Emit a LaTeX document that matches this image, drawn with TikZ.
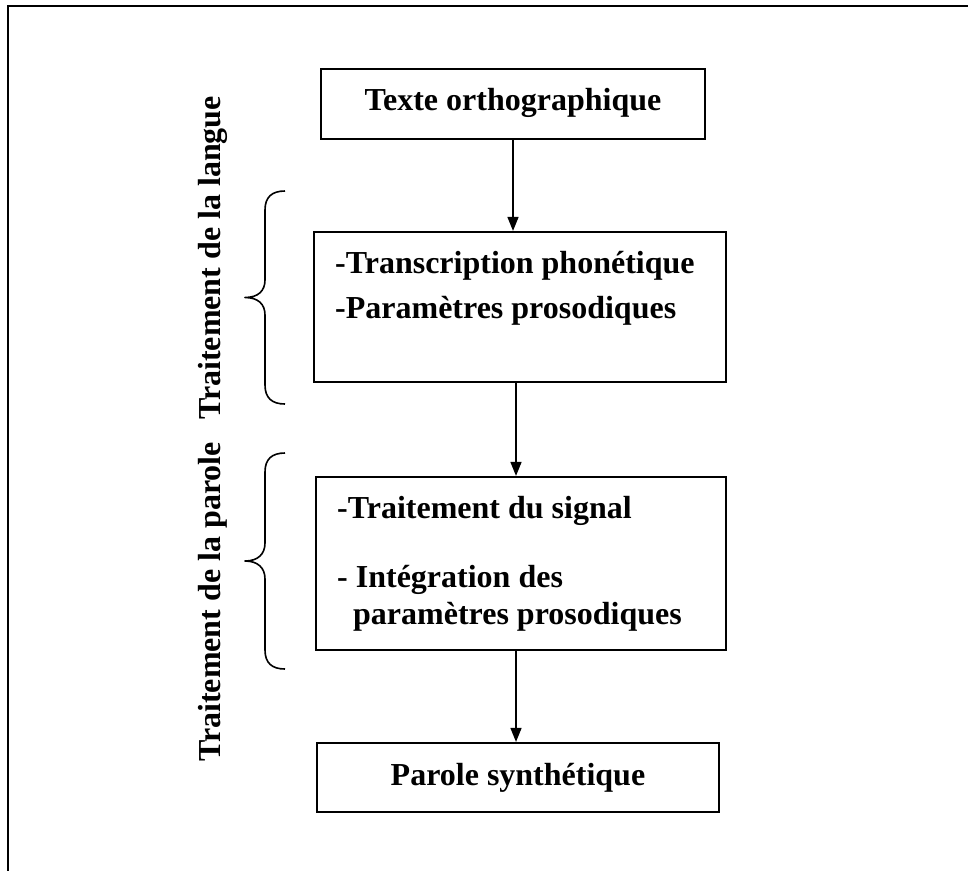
\documentclass[tikz,border=0pt]{standalone}
\usepackage{fontspec}
\setmainfont{Liberation Serif}
\usetikzlibrary{arrows.meta}
\begin{document}
\begin{tikzpicture}[x=1pt,y=-1pt,
  lbl/.style={font=\fontsize{32}{38}\selectfont\bfseries, inner sep=0pt},
  stage/.style={draw, line width=2.2pt, rectangle, inner sep=0pt},
  flow/.style={line width=1.5pt, -{Triangle[length=14pt,width=11pt]}},
  frame/.style={line width=2pt},
  bracestroke/.style={line width=1.6pt, line join=round}]
\useasboundingbox (0,0) rectangle (968,871);

% page frame (top and left edges)
\draw[frame] (968,6) -- (8,6) -- (8,871);

% stage boxes
\node[stage, minimum width=384pt, minimum height=70pt] (b1) at (513,104) {};
\node[stage, minimum width=412pt, minimum height=150pt] (b2) at (520,307) {};
\node[stage, minimum width=410pt, minimum height=173pt] (b3) at (521,563.5) {};
\node[stage, minimum width=402pt, minimum height=69pt] (b4) at (518,777.5) {};

% box texts
\node[lbl, anchor=base] (t1) at (513,110) {Texte orthographique};
\node[lbl, anchor=base west] (t2a) at (335,273) {-Transcription phonétique};
\node[lbl, anchor=base west] (t2b) at (335,318) {-Paramètres prosodiques};
\node[lbl, anchor=base west] (t3a) at (337,518) {-Traitement du signal};
\node[lbl, anchor=base west] (t3b) at (337,587) {- Intégration des};
\node[lbl, anchor=base west] (t3c) at (353,624) {paramètres prosodiques};
\node[lbl, anchor=base] (t4) at (518,785) {Parole synthétique};

% connectors
\draw[flow] (b1.south -| 513,0) -- (b2.north -| 513,0);
\draw[flow] (b2.south -| 516,0) -- (b3.north -| 516,0);
\draw[flow] (b3.south -| 516,0) -- (b4.north -| 516,0);

% side labels
\node[lbl, rotate=90] (l1) at (213,258) {Traitement de la langue};
\node[lbl, rotate=90] (l2) at (213,602) {Traitement de la parole};

% braces
\coordinate (br1) at (245,297.5);
\draw[bracestroke] (285,191) .. controls (272,191) and (265,197) .. (265,210)
  -- (265,280) .. controls (265,291) and (258,297.5) .. (br1)
  .. controls (258,297.5) and (265,304) .. (265,315)
  -- (265,385) .. controls (265,398) and (272,404) .. (285,404);
\coordinate (br2) at (245,561);
\draw[bracestroke] (285,453) .. controls (272,453) and (265,459) .. (265,472)
  -- (265,543) .. controls (265,554) and (258,561) .. (br2)
  .. controls (258,561) and (265,568) .. (265,579)
  -- (265,650) .. controls (265,663) and (272,669) .. (285,669);
\end{tikzpicture}
\end{document}
